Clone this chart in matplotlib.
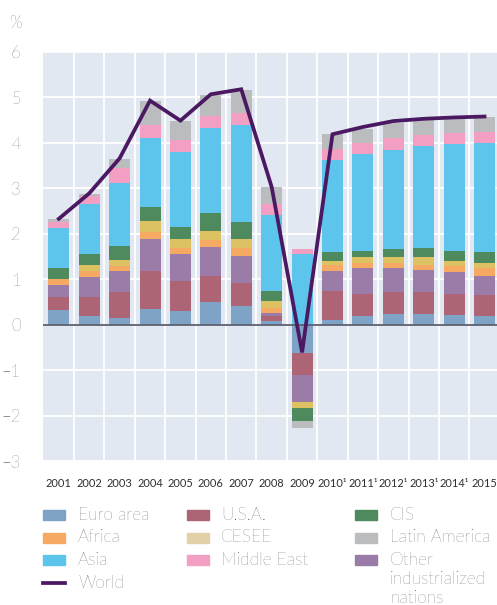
import numpy as np
import matplotlib.pyplot as plt
from matplotlib.patches import Rectangle
from matplotlib.lines import Line2D

# contributions to world GDP growth, percentage points
years = ['2001', '2002', '2003', '2004', '2005', '2006', '2007', '2008', '2009',
         '2010\u00b9', '2011\u00b9', '2012\u00b9', '2013\u00b9', '2014\u00b9', '2015']
euro_area = [0.33, 0.18, 0.15, 0.35, 0.29, 0.49, 0.42, 0.09, -0.62, 0.11, 0.20, 0.24, 0.24, 0.22, 0.20]
usa = [0.27, 0.42, 0.56, 0.82, 0.66, 0.59, 0.49, 0.09, -0.48, 0.62, 0.48, 0.47, 0.47, 0.46, 0.46]
other_ind = [0.28, 0.44, 0.46, 0.71, 0.60, 0.62, 0.61, 0.08, -0.60, 0.46, 0.56, 0.53, 0.50, 0.47, 0.42]
africa = [0.12, 0.15, 0.11, 0.16, 0.13, 0.16, 0.16, 0.11, 0.00, 0.13, 0.11, 0.11, 0.11, 0.13, 0.16]
cesee = [0.00, 0.13, 0.15, 0.25, 0.20, 0.21, 0.20, 0.14, -0.13, 0.09, 0.13, 0.15, 0.16, 0.13, 0.11]
cis = [0.24, 0.23, 0.31, 0.31, 0.28, 0.39, 0.37, 0.24, -0.29, 0.18, 0.15, 0.16, 0.20, 0.22, 0.24]
asia = [0.89, 1.11, 1.37, 1.51, 1.64, 1.87, 2.14, 1.66, 1.55, 2.04, 2.13, 2.19, 2.26, 2.35, 2.41]
middle_east = [0.13, 0.17, 0.34, 0.28, 0.27, 0.27, 0.27, 0.25, 0.11, 0.23, 0.23, 0.26, 0.23, 0.23, 0.25]
latin_am = [0.06, 0.05, 0.19, 0.53, 0.41, 0.45, 0.51, 0.36, -0.15, 0.33, 0.31, 0.32, 0.33, 0.34, 0.32]
world = [2.33, 2.89, 3.66, 4.93, 4.49, 5.07, 5.18, 3.03, -0.61, 4.19, 4.35, 4.48, 4.53, 4.56, 4.58]

# stacking order, bottom to top
series = [
    ('Euro area', euro_area, '#7ea3c7'),
    ('U.S.A.', usa, '#ad6475'),
    ('Other\nindustrialized\nnations', other_ind, '#9b7ca8'),
    ('Africa', africa, '#f5a962'),
    ('CESEE', cesee, '#dcc262'),
    ('CIS', cis, '#4f8a5e'),
    ('Asia', asia, '#5dc5ec'),
    ('Middle East', middle_east, '#f29fc3'),
    ('Latin America', latin_am, '#bbbcbe'),
]
world_color = '#4b1862'
text_color = '#2e2e2e'

plt.rcParams['font.family'] = ['Lato', 'DejaVu Sans']

W, H = 497, 605
fig = plt.figure(figsize=(W / 100, H / 100), dpi=100)
ax = fig.add_axes([43 / W, (H - 461) / H, (W - 43) / W, (461 - 52) / H])
ax.set_facecolor('#e2e8f2')

x = np.arange(len(years))
pos_base = np.zeros(len(years))
neg_base = np.zeros(len(years))
for name, vals, color in series:
    v = np.array(vals)
    bottom = np.where(v >= 0, pos_base, neg_base)
    ax.bar(x, v, width=0.69, bottom=bottom, color=color, zorder=2, linewidth=0)
    pos_base = pos_base + np.where(v >= 0, v, 0)
    neg_base = neg_base + np.where(v < 0, v, 0)

ax.axhline(0, color='#5b6070', lw=1.3, zorder=3)
ax.plot(x, world, color=world_color, lw=2.7, zorder=4, solid_joinstyle='miter')

ax.set_xlim(-0.52, len(years) - 0.59)
ax.set_ylim(-3, 6)
ax.set_yticks(range(-3, 7))
ax.set_yticklabels(['\u22123', '\u22122', '\u22121', '0', '1', '2', '3', '4', '5', '6'])
ax.set_xticks(x)
ax.set_xticklabels(years, fontsize=7.9)
ax.set_xticks(x[:-1] + 0.5, minor=True)
ax.grid(axis='y', color='white', lw=1.3, zorder=1)
ax.grid(axis='x', which='minor', color='white', lw=1.3, zorder=1)
ax.tick_params(axis='both', which='both', length=0, colors=text_color)
ax.tick_params(axis='y', labelsize=12, pad=16)
ax.tick_params(axis='x', pad=12)
for lab in ax.get_yticklabels():
    lab.set_fontweight('light')
for s in ax.spines.values():
    s.set_visible(False)

fig.text(9 / W, 1 - 23 / H, '%', fontsize=12, fontweight='light', color=text_color, va='center')

# legend, three columns
def px(xp, yp):
    return xp / W, 1 - yp / H

by_name = {name: color for name, _, color in series}
legend_cols = [
    (43, 78, ['Euro area', 'Africa', 'Asia', 'World']),
    (187, 221, ['U.S.A.', 'CESEE', 'Middle East']),
    (355, 390, ['CIS', 'Latin America', 'Other\nindustrialized\nnations']),
]
row_y = [515, 537.5, 560, 583]
for px_patch, px_text, names in legend_cols:
    for i, name in enumerate(names):
        y = row_y[i]
        if name == 'World':
            fig.add_artist(Line2D([px_patch / W, (px_patch + 22) / W], [1 - y / H, 1 - y / H],
                                  color=world_color, lw=2.7, transform=fig.transFigure))
        else:
            color = '#e2d0a9' if name == 'CESEE' else by_name[name]
            x0, y0 = px(px_patch, y + 5)
            fig.add_artist(Rectangle((x0, y0), 22 / W, 10 / H, color=color,
                                     transform=fig.transFigure))
        fig.text(px_text / W, 1 - (y - 8) / H, name, fontsize=12.5, fontweight='light',
                 color=text_color, va='top', linespacing=1.22)

fig.savefig('out.png', dpi=100)
